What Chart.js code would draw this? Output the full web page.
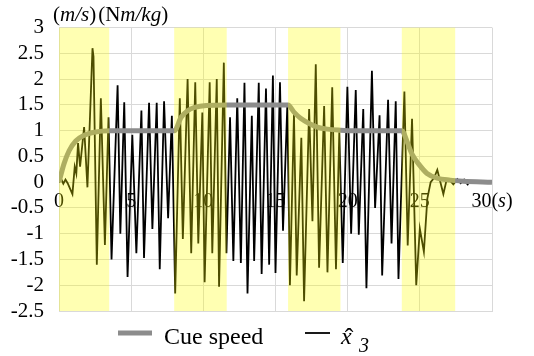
<!DOCTYPE html>
<html>
<head>
<meta charset="utf-8">
<script src="https://cdn.jsdelivr.net/npm/chart.js@4.4.0/dist/chart.umd.min.js"></script>
<style>
  html, body { margin: 0; padding: 0; background: #fff; }
  #wrap { width: 534px; height: 356px; }
</style>
</head>
<body>
<div id="wrap"><canvas id="chart" width="534" height="356"></canvas></div>
<script>
// axis ticks
const xTicks = [0, 5, 10, 15, 20, 25, 30]
const yTicks = [3, 2.5, 2, 1.5, 1, 0.5, 0, -0.5, -1, -1.5, -2, -2.5]

// yellow phases (s)
const bandStart = [0, 7.98, 15.87, 23.75]
const bandEnd = [3.48, 11.62, 19.5, 27.45]

// cue speed (m/s)
const cueT = [0, 0.35, 0.7, 1.16, 1.74, 2.43, 3.5, 8.0, 8.46, 8.93, 9.4, 10.2, 11.6, 15.87, 16.28, 16.74, 17.33, 17.9, 18.6, 19.5, 20.5, 23.75, 24.1, 24.45, 24.9, 25.5, 26.2, 27.1, 28.0, 30]
const cueV = [0, 0.36, 0.61, 0.8, 0.91, 0.97, 1.0, 1.0, 1.26, 1.39, 1.45, 1.49, 1.5, 1.5, 1.36, 1.24, 1.14, 1.07, 1.03, 1.01, 1.0, 1.0, 0.8, 0.55, 0.36, 0.17, 0.08, 0.04, 0.02, 0]

// x̂3 (Nm/kg)
const xhatT = [0, 0.15, 0.3, 0.45, 0.6, 0.93, 1.09, 1.2, 1.32, 1.46, 1.74, 1.97, 2.32, 2.39, 2.62, 2.9, 3.18, 3.43, 3.64, 4.06, 4.25, 4.52, 4.75, 5.08, 5.36, 5.71, 5.89, 6.24, 6.47, 6.77, 6.98, 7.28, 7.56, 7.82, 8.05, 8.37, 8.58, 8.91, 9.16, 9.44, 9.65, 9.93, 10.09, 10.44, 10.62, 10.93, 11.09, 11.42, 11.6, 11.85, 12.08, 12.35, 12.6, 12.85, 13.06, 13.36, 13.52, 13.84, 14.04, 14.34, 14.56, 14.82, 15.0, 15.31, 15.52, 15.82, 16.0, 16.28, 16.47, 16.79, 16.98, 17.33, 17.56, 17.79, 18.02, 18.37, 18.6, 18.93, 19.19, 19.42, 19.66, 19.98, 20.24, 20.56, 20.77, 21.08, 21.3, 21.68, 21.9, 22.21, 22.39, 22.8, 23.04, 23.33, 23.52, 23.93, 24.16, 24.46, 24.75, 25.0, 25.28, 25.52, 25.75, 25.98, 26.21, 26.63, 26.86, 27.13, 27.32, 27.6, 27.83, 28.07, 28.35]
const xhatV = [0, 0.06, -0.03, 0.05, -0.02, -0.23, 0.3, 0.17, 0.76, 0.3, 1.07, -0.1, 2.6, 2.44, -1.6, 1.63, -1.22, 1.26, -1.5, 1.88, -1.0, 1.55, -1.84, 0.92, -1.38, 1.39, -1.47, 1.54, -0.91, 1.54, -1.69, 1.57, -0.7, 1.29, -2.16, 1.63, -1.1, 2.0, -1.38, 1.94, -1.19, 1.35, -1.94, 1.94, -1.38, 2.0, -2.03, 2.32, -1.38, 1.26, -1.53, 1.63, -1.57, 1.93, -2.16, 1.29, -1.53, 1.93, -1.78, 1.82, -1.6, 2.07, -1.76, 1.94, -0.94, 1.5, -2.0, 1.32, -1.81, 0.86, -2.31, 1.42, -0.76, 2.29, -1.66, 1.48, -1.75, 1.84, -1.69, 0.97, -1.57, 1.85, -1.0, 1.79, -1.02, 1.42, -2.06, 2.16, -0.5, 1.3, -1.81, 1.6, -1.19, 1.57, -1.88, 1.76, -1.23, 1.23, -2.0, -0.9, -1.35, -0.32, 0, 0.08, 0.24, -0.23, 0.05, 0.02, -0.04, 0.06, -0.02, 0.05, -0.06]

const SERIF = '"Liberation Serif", "Times New Roman", serif'
const GRAY = '#8c8c8c'
const GRID = '#d9d9d9'

// draws a row of [text, italic] pieces starting at x
function drawPieces(ctx, pieces, x, y, size) {
  pieces.forEach(([txt, it]) => {
    ctx.font = (it ? 'italic ' : '') + size + 'px ' + SERIF
    ctx.fillText(txt, x, y)
    x += ctx.measureText(txt).width
  })
  return x
}

function piecesWidth(ctx, pieces, size) {
  let w = 0
  pieces.forEach(([txt, it]) => {
    ctx.font = (it ? 'italic ' : '') + size + 'px ' + SERIF
    w += ctx.measureText(txt).width
  })
  return w
}

const decor = {
  id: 'decor',
  beforeDatasetsDraw(chart) {
    const { ctx, scales: { x, y } } = chart
    const y0 = y.getPixelForValue(0) + 20
    ctx.save()
    ctx.fillStyle = '#000'
    ctx.textBaseline = 'middle'
    ctx.textAlign = 'left'
    xTicks.forEach(v => {
      const pieces = v === 30 ? [['30', false], ['(', false], ['s', true], [')', false]] : [[String(v), false]]
      const w = piecesWidth(ctx, pieces, 20)
      drawPieces(ctx, pieces, x.getPixelForValue(v) - w / 2, y0, 20)
    })
    ctx.restore()
  },
  afterDatasetsDraw(chart) {
    const { ctx, chartArea: a, scales: { x } } = chart
    ctx.save()
    ctx.fillStyle = 'rgba(255, 255, 0, 0.3)'
    bandStart.forEach((s, i) => {
      const l = x.getPixelForValue(s)
      const r = x.getPixelForValue(bandEnd[i])
      ctx.fillRect(l, a.top, r - l, a.bottom - a.top)
    })
    ctx.restore()
  },
  afterDraw(chart) {
    const { ctx } = chart
    ctx.save()
    ctx.fillStyle = '#000'
    ctx.textBaseline = 'alphabetic'
    ctx.textAlign = 'left'
    // units
    let ux = drawPieces(ctx, [['(', false], ['m/s', true], [')', false]], 53, 21, 21)
    drawPieces(ctx, [['(N', false], ['m/kg', true], [')', false]], ux + 2, 21, 21)

    // legend
    ctx.lineCap = 'butt'
    ctx.strokeStyle = GRAY
    ctx.lineWidth = 5
    ctx.beginPath(); ctx.moveTo(118, 333); ctx.lineTo(152, 333); ctx.stroke()
    ctx.font = '24px ' + SERIF
    ctx.fillText('Cue speed', 164, 344)
    ctx.strokeStyle = '#000'
    ctx.lineWidth = 1.8
    ctx.beginPath(); ctx.moveTo(305, 333); ctx.lineTo(330, 333); ctx.stroke()
    ctx.font = 'italic 24px ' + SERIF
    ctx.fillText('x', 341, 344)
    ctx.textAlign = 'center'
    ctx.font = '26px ' + SERIF
    ctx.fillText('\u02C6', 349, 346)
    ctx.textAlign = 'left'
    ctx.font = 'italic 20px ' + SERIF
    ctx.fillText('3', 359, 352)
    ctx.restore()
  }
}

new Chart(document.getElementById('chart'), {
  type: 'line',
  data: {
    datasets: [
      {
        label: 'Cue speed',
        data: cueT.map((t, i) => ({ x: t, y: cueV[i] })),
        borderColor: GRAY,
        borderWidth: 5,
        pointRadius: 0,
        cubicInterpolationMode: 'monotone',
        tension: 0.4
      },
      {
        label: 'x̂3',
        data: xhatT.map((t, i) => ({ x: t, y: xhatV[i] })),
        borderColor: '#000',
        borderWidth: 1.8,
        pointRadius: 0,
        tension: 0
      }
    ]
  },
  options: {
    responsive: false,
    animation: false,
    layout: { padding: { top: 13.5, right: 42, left: 0, bottom: 0 } },
    plugins: {
      legend: { display: false },
      tooltip: { enabled: false }
    },
    scales: {
      x: {
        type: 'linear',
        min: 0,
        max: 30,
        ticks: { stepSize: 5, display: false },
        grid: { color: GRID, drawTicks: false },
        border: { color: GRID },
        afterFit: (s) => { s.height = 45 }
      },
      y: {
        min: -2.5,
        max: 3,
        afterBuildTicks: (s) => { s.ticks = yTicks.map(v => ({ value: v })) },
        ticks: {
          color: '#000',
          padding: 15,
          autoSkip: false,
          font: { family: SERIF, size: 21 },
          callback: (v) => String(v)
        },
        grid: { color: GRID, drawTicks: false },
        border: { color: GRID },
        afterFit: (s) => { s.width = 59 }
      }
    }
  },
  plugins: [decor]
})
</script>
</body>
</html>
